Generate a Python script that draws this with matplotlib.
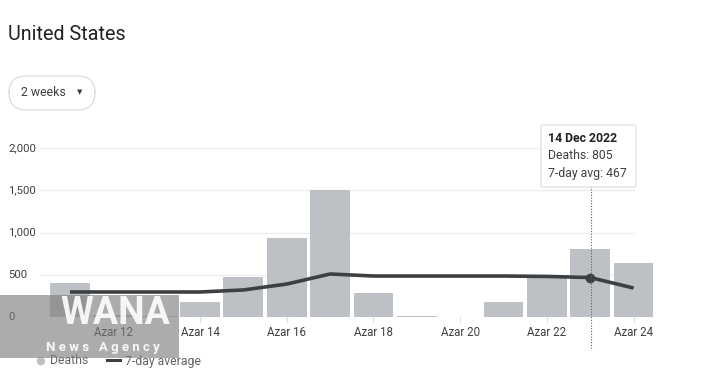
import matplotlib.pyplot as plt
from matplotlib.patches import FancyBboxPatch, Rectangle
import numpy as np

plt.rcParams['font.family'] = ['Roboto', 'DejaVu Sans']

days = [11, 12, 13, 14, 15, 16, 17, 18, 19, 20, 21, 22, 23, 24]
deaths = [402, 20, 10, 178, 473, 935, 1503, 284, 12, 0, 178, 477, 805, 639]
avg7 = [296, 296, 296, 296, 320, 390, 509, 485, 485, 485, 485, 480, 467, 343]
tick_days = [12, 14, 16, 18, 20, 22, 24]
tick_labels = ['Azar ' + str(d) for d in tick_days]
y_ticks = [0, 500, 1000, 1500, 2000]
y_labels = ['0', '500', '1,000', '1,500', '2,000']

W, H = 719, 375
fig = plt.figure(figsize=(W / 100, H / 100), dpi=100)


def fx(px):
    return px / W


def fy(py):
    return 1 - py / H


# axes from pixel x 40..660, y 148 (2000) .. 317 (0)
ax = fig.add_axes([fx(40), fy(317), fx(620), (317 - 148) / H])
ax.set_xlim(10.308, 24.61)
ax.set_ylim(0, 2000)
for s in ax.spines.values():
    s.set_visible(False)
ax.set_xticks([])
ax.set_yticks([])

for v in y_ticks[1:]:
    ax.plot([10.308, 24.0], [v, v], color='#eeeeee', lw=1, zorder=0)

ax.bar(days, deaths, width=0.92, color='#bdc1c6', zorder=1)
ax.plot(days, avg7, color='#3c4043', lw=2.6, zorder=3, solid_capstyle='butt')
ax.plot([23], [467], 'o', color='#3c4043', ms=6, zorder=4)

for d, lab in zip(tick_days, tick_labels):
    ax.plot([d, d], [0, -60], color='#e0e0e0', lw=0.8, clip_on=False)
    ax.text(d, -105, lab, ha='center', va='top', fontsize=8.3, color='#3c4043')

for v, lab in zip(y_ticks, y_labels):
    fig.text(fx(8), fy(317 - v * 169 / 2000), lab, ha='left', va='center',
             fontsize=8.2, color='#3c4043')

# hover line
fig.add_artist(plt.Line2D([fx(591), fx(591)], [fy(186), fy(350)], color='#5f6368',
                          lw=0.8, ls=(0, (1, 1.5))))

# tooltip
fig.add_artist(FancyBboxPatch((fx(541), fy(187)), fx(95), (187 - 125) / H,
                              boxstyle='round,pad=0,rounding_size=0.004',
                              fc='white', ec='#dadce0', lw=0.8, zorder=5))
fig.text(fx(548), fy(139), '14 Dec 2022', fontsize=8.8, fontweight='bold',
         color='#202124', va='center', zorder=6)
fig.text(fx(548), fy(156), 'Deaths: 805', fontsize=8.8, color='#3c4043',
         va='center', zorder=6)
fig.text(fx(548), fy(173), '7-day avg: 467', fontsize=8.8, color='#3c4043',
         va='center', zorder=6)

# title and button
fig.text(fx(8), fy(34), 'United States', fontsize=14.2, color='#202124', va='center')
fig.add_artist(FancyBboxPatch((fx(9), fy(110)), fx(86), 34 / H,
                              boxstyle='round,pad=0,rounding_size=0.024',
                              fc='white', ec='#dadce0', lw=0.9,
                              mutation_aspect=W / H))
fig.text(fx(21), fy(92), '2 weeks', fontsize=8.8, color='#3c4043', va='center')
fig.text(fx(77), fy(92), '\u25BC', fontsize=5, color='#3c4043', va='center',
         family='DejaVu Sans')

# legend
fig.text(fx(40), fy(361), '\u25CF', fontsize=8, color='#bdc1c6', va='center',
         ha='center', family='DejaVu Sans')
fig.text(fx(50), fy(361), 'Deaths', fontsize=8.8, color='#5f6368', va='center')
fig.add_artist(plt.Line2D([fx(107), fx(120)], [fy(360), fy(360)], color='#3c4043', lw=2.2))
fig.text(fx(125), fy(361), '7-day average', fontsize=8.8, color='#5f6368', va='center')

# watermark
fig.add_artist(Rectangle((0, fy(358)), fx(179), (358 - 295) / H, fc='#7a7a7a',
                         alpha=0.62, ec='none', zorder=10))
fig.text(fx(115), fy(314), 'WANA', fontsize=27, fontweight='bold', color='white',
         alpha=0.9, ha='center', va='center', zorder=11)
fig.text(fx(103), fy(348), 'N e w s   A g e n c y', fontsize=9.5, fontweight='bold',
         color='white', alpha=0.9, ha='center', va='center', zorder=11)

fig.savefig('out.png', dpi=100)
